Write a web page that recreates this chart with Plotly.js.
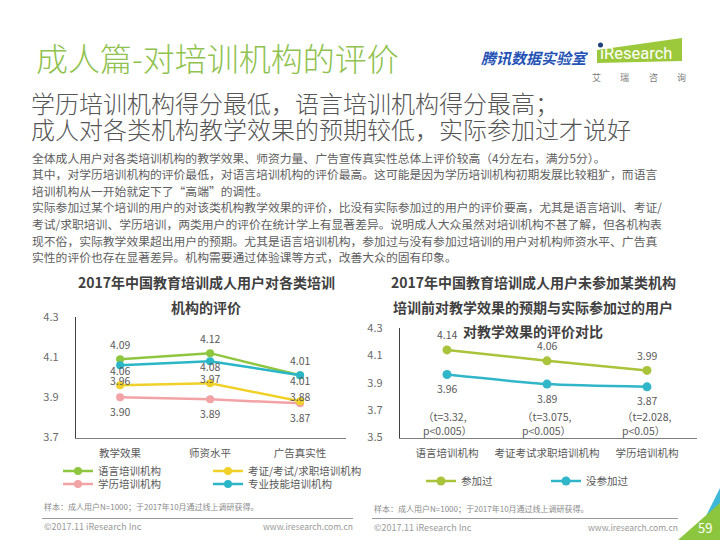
<!DOCTYPE html>
<html><head><meta charset="utf-8">
<script src="https://cdn.plot.ly/plotly-3.0.1.min.js"></script>
<style>html,body{margin:0;padding:0;background:#fff}#chart{width:720px;height:540px}</style>
</head><body><div id="chart"></div>
<script>
// ---------- data ----------
const leftCategories = ['教学效果', '师资水平', '广告真实性'];
const languageScores = [4.09, 4.12, 4.01];
const certExamJobScores = [3.96, 3.97, 3.88];
const degreeScores = [3.90, 3.89, 3.87];
const skillScores = [4.06, 4.08, 4.01];
const leftSeriesNames = ['语言培训机构', '考证/考试/求职培训机构', '学历培训机构', '专业技能培训机构'];
const leftTicks = [3.7, 3.9, 4.1, 4.3];

const rightCategories = ['语言培训机构', '考证考试求职培训机构', '学历培训机构'];
const attendedScores = [4.14, 4.06, 3.99];
const notAttendedScores = [3.96, 3.89, 3.87];
const rightSeriesNames = ['参加过', '没参加过'];
const rightTicks = [3.5, 3.7, 3.9, 4.1, 4.3];
const tStats = ['t=3.32', 't=3.075', 't=2.028'];
const pValues = ['p&lt;0.005', 'p&lt;0.005', 'p&lt;0.05'];

// ---------- helpers ----------
const W = 720, H = 540;
const X = px => px / W;
const Y = py => 1 - py / H;
const CJK = '"Noto Sans CJK SC", "Noto Sans", sans-serif';
const GRAY = '#595959';

const C = {
  green: '#8ec63f', yellow: '#f0d12a', pink: '#f2a3a6', cyan: '#2bb6c8',
  green2: '#a9c33b', cyan2: '#31b6c9'
};

function series(name, cats, vals, color, xa, ya, legendId, shape, mSize) {
  return {
    type: 'scatter', mode: 'lines+markers', name: name,
    x: cats, y: vals, xaxis: xa, yaxis: ya, legend: legendId,
    line: {color: color, width: 2.5, shape: shape || 'linear', smoothing: 0.6},
    marker: {color: color, size: mSize || 8},
    hoverinfo: 'skip', cliponaxis: false
  };
}

const traces = [
  series(leftSeriesNames[2], leftCategories, degreeScores, C.pink, 'x', 'y', 'legend3'),
  series(leftSeriesNames[1], leftCategories, certExamJobScores, C.yellow, 'x', 'y', 'legend2'),
  series(leftSeriesNames[0], leftCategories, languageScores, C.green, 'x', 'y', 'legend'),
  series(leftSeriesNames[3], leftCategories, skillScores, C.cyan, 'x', 'y', 'legend4'),
  series(rightSeriesNames[0], rightCategories, attendedScores, C.green2, 'x2', 'y2', 'legend5', 'spline', 9),
  series(rightSeriesNames[1], rightCategories, notAttendedScores, C.cyan2, 'x2', 'y2', 'legend6', 'spline', 9)
];

// ---------- annotations ----------
const ann = [];
function txt(text, x, y, size, color, opts, weight) {
  ann.push(Object.assign({
    text: text, x: X(x), y: Y(y), xref: 'paper', yref: 'paper',
    xanchor: 'left', yanchor: 'middle', showarrow: false,
    font: {family: CJK, size: size, color: color, weight: weight || 'normal'}
  }, opts || {}));
}
function valueLabels(vals, xa, ya, shift) {
  vals.forEach((v, i) => ann.push({
    text: v.toFixed(2), x: i, y: v, xref: xa, yref: ya, showarrow: false,
    yshift: shift, font: {family: CJK, size: 10.5, color: GRAY}
  }));
}
valueLabels(languageScores, 'x', 'y', 15);
valueLabels(certExamJobScores, 'x', 'y', 5);
valueLabels(skillScores, 'x', 'y', -5);
valueLabels(degreeScores, 'x', 'y', -14);
valueLabels(attendedScores, 'x2', 'y2', 15);
valueLabels(notAttendedScores, 'x2', 'y2', -14);

tStats.forEach((t, i) => ann.push({
  text: '（' + t + ',<br>' + pValues[i] + '）', x: i, xref: 'x2', y: Y(423), yref: 'paper',
  showarrow: false, align: 'left', xanchor: 'center', yanchor: 'middle',
  font: {family: CJK, size: 10.5, color: GRAY}
}));

// header
txt('成人篇-对培训机构的评价', 34, 57, 32, '#8fc24e', null, 300);
txt('<b><i>腾讯数据实验室</i></b>', 479, 58, 15, '#2452b5');
txt('ıResearch', 598, 54, 16.5, '#ffffff', {font: {family: 'Roboto, sans-serif', size: 16.5, color: '#ffffff'}});
['艾', '瑞', '咨', '询'].forEach((c, i) => txt(c, 596 + i * 28.5, 77, 9, '#7a7a7a', {xanchor: 'center'}));

// subtitle
txt('学历培训机构得分最低，语言培训机构得分最高；', 29, 102, 24, '#555555', null, 300);
txt('成人对各类机构教学效果的预期较低，实际参加过才说好', 29, 128, 24, '#555555', null, 300);

// body
const bodyLines = [
  '全体成人用户对各类培训机构的教学效果、师资力量、广告宣传真实性总体上评价较高（4分左右，满分5分）。',
  '其中，对学历培训机构的评价最低，对语言培训机构的评价最高。这可能是因为学历培训机构初期发展比较粗犷，而语言',
  '培训机构从一开始就定下了“高端”的调性。',
  '实际参加过某个培训的用户的对该类机构教学效果的评价，比没有实际参加过的用户的评价要高，尤其是语言培训、考证/',
  '考试/求职培训、学历培训，两类用户的评价在统计学上有显著差异。说明成人大众虽然对培训机构不甚了解，但各机构表',
  '现不俗，实际教学效果超出用户的预期。尤其是语言培训机构，参加过与没有参加过培训的用户对机构师资水平、广告真',
  '实性的评价也存在显著差异。机构需要通过体验课等方式，改善大众的固有印象。'
];
bodyLines.forEach((l, i) => txt(l, 30, 157 + i * 16.65, 11.8, '#606060'));

// chart titles
txt('<b>2017年中国教育培训成人用户对各类培训</b>', 206, 282, 14, '#404040', {xanchor: 'center'});
txt('<b>机构的评价</b>', 206, 307, 14, '#404040', {xanchor: 'center'});
txt('<b>2017年中国教育培训成人用户未参加某类机构</b>', 533, 282, 14, '#404040', {xanchor: 'center'});
txt('<b>培训前对教学效果的预期与实际参加过的用户</b>', 533, 307, 14, '#404040', {xanchor: 'center'});
txt('<b>对教学效果的评价对比</b>', 533, 331, 14, '#404040', {xanchor: 'center'});

// source & footer
const note = '样本：成人用户N=1000；于2017年10月通过线上调研获得。';
txt(note, 42, 506, 8, '#8a8a8a');
txt(note, 372, 509, 8, '#8a8a8a');
txt('©2017.11 iResearch Inc', 42, 526, 9, '#9a9a9a');
txt('www.iresearch.com.cn', 355, 526, 8.5, '#9a9a9a', {xanchor: 'right'});
txt('©2017.11 iResearch Inc', 372, 527, 9, '#9a9a9a');
txt('www.iresearch.com.cn', 680, 527, 8.5, '#9a9a9a', {xanchor: 'right'});
txt('59', 705, 527, 13, '#ffffff', {xanchor: 'center'});

// ---------- shapes ----------
function path(pts) {
  return 'M' + pts.map(p => X(p[0]).toFixed(5) + ',' + Y(p[1]).toFixed(5)).join(' L') + ' Z';
}
const shapes = [
  {type: 'path', xref: 'paper', yref: 'paper', path: path([[597, 50], [682, 38], [682, 61], [597, 63]]),
   fillcolor: '#9cc93b', line: {width: 0}, layer: 'below'},
  {type: 'circle', xref: 'paper', yref: 'paper', x0: X(598), x1: X(603), y0: Y(47.5), y1: Y(42.5),
   fillcolor: '#1d3f7a', line: {width: 0}},
  {type: 'line', xref: 'paper', yref: 'paper', x0: X(42), x1: X(353), y0: Y(518.5), y1: Y(518.5),
   line: {color: '#9a9a9a', width: 1}},
  {type: 'line', xref: 'paper', yref: 'paper', x0: X(372), x1: X(678), y0: Y(518.5), y1: Y(518.5),
   line: {color: '#9a9a9a', width: 1}},
  {type: 'path', xref: 'paper', yref: 'paper', path: path([[720, 488], [720, 540], [694, 540]]),
   fillcolor: '#3fb8d8', line: {width: 0}, layer: 'below'},
  {type: 'path', xref: 'paper', yref: 'paper', path: path([[720, 503], [720, 540], [678, 540]]),
   fillcolor: '#8cc63f', line: {width: 0}, layer: 'below'}
];

// ---------- legends ----------
function leg(x, y) {
  return {x: X(x), y: Y(y), xanchor: 'left', yanchor: 'middle', orientation: 'h',
    bgcolor: 'rgba(0,0,0,0)', borderwidth: 0, itemwidth: 30,
    font: {family: CJK, size: 10.5, color: GRAY}};
}

const axisCommon = {showgrid: false, zeroline: false, ticks: '', fixedrange: true};
const layout = {
  width: W, height: H, margin: {l: 0, r: 0, t: 0, b: 0},
  paper_bgcolor: '#ffffff', plot_bgcolor: 'rgba(0,0,0,0)',
  font: {family: CJK, color: GRAY},
  showlegend: true,
  legend: leg(58, 471), legend2: leg(208, 471), legend3: leg(58, 484), legend4: leg(208, 484),
  legend5: leg(421, 481), legend6: leg(546, 481),
  xaxis: Object.assign({}, axisCommon, {
    domain: [X(76), X(346)], range: [-0.49, 2.51], type: 'category', anchor: 'y',
    showline: true, linecolor: '#7f7f7f', linewidth: 1,
    tickfont: {family: CJK, size: 10.5, color: GRAY}, ticklabelstandoff: 6
  }),
  yaxis: Object.assign({}, axisCommon, {
    domain: [Y(437.5), Y(317)], range: [3.7, 4.3], anchor: 'x',
    tickvals: leftTicks, ticktext: leftTicks.map(v => v.toFixed(1)),
    showline: true, linecolor: '#404040', linewidth: 1.2,
    tickfont: {family: CJK, size: 11, color: '#6a6a6a'}, ticklabelstandoff: 14
  }),
  xaxis2: Object.assign({}, axisCommon, {
    domain: [X(400), X(697)], range: [-0.47, 2.5], type: 'category', anchor: 'y2',
    showline: true, linecolor: '#7f7f7f', linewidth: 1,
    tickfont: {family: CJK, size: 10.5, color: GRAY}, ticklabelstandoff: 6
  }),
  yaxis2: Object.assign({}, axisCommon, {
    domain: [Y(437.5), Y(328)], range: [3.5, 4.3], anchor: 'x2',
    tickvals: rightTicks, ticktext: rightTicks.map(v => v.toFixed(1)),
    showline: true, linecolor: '#404040', linewidth: 1.2,
    tickfont: {family: CJK, size: 11, color: '#6a6a6a'}, ticklabelstandoff: 14
  }),
  annotations: ann,
  shapes: shapes
};

Plotly.newPlot('chart', traces, layout, {staticPlot: true, displayModeBar: false});
</script>
</body></html>
